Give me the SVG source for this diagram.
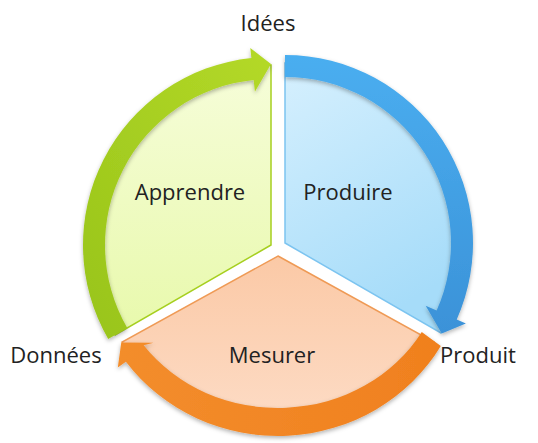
<svg xmlns="http://www.w3.org/2000/svg" width="538" height="443" viewBox="0 0 538 443">
<style>
  text { font-family: "Open Sans", "Liberation Sans", sans-serif; font-size: 22px; fill: #222222; text-anchor: middle; }
  .band { filter: url(#shadow); }
</style>
<defs>
  <filter id="shadow" x="-20%" y="-20%" width="140%" height="140%">
    <feDropShadow dx="0" dy="2" stdDeviation="2" flood-color="#000000" flood-opacity="0.3"/>
  </filter>
  <linearGradient id="gFill" x1="0" y1="0" x2="0" y2="1">
    <stop offset="0" stop-color="#f6fdd9"/>
    <stop offset="1" stop-color="#e8f9ac"/>
  </linearGradient>
  <linearGradient id="bFill" x1="0" y1="0" x2="0.4" y2="1">
    <stop offset="0" stop-color="#d6f0fe"/>
    <stop offset="1" stop-color="#a6dcf9"/>
  </linearGradient>
  <linearGradient id="oFill" x1="0" y1="0" x2="0" y2="1">
    <stop offset="0" stop-color="#fbc9a6"/>
    <stop offset="1" stop-color="#fddcc6"/>
  </linearGradient>
  <linearGradient id="gBand" x1="0" y1="1" x2="1" y2="0">
    <stop offset="0" stop-color="#98c41a"/>
    <stop offset="1" stop-color="#b4d928"/>
  </linearGradient>
  <linearGradient id="bBand" x1="0" y1="0" x2="0" y2="1">
    <stop offset="0" stop-color="#4aaef0"/>
    <stop offset="1" stop-color="#3b92d8"/>
  </linearGradient>
  <linearGradient id="oBand" x1="1" y1="0" x2="0" y2="0">
    <stop offset="0" stop-color="#f0801e"/>
    <stop offset="1" stop-color="#f38d2c"/>
  </linearGradient>
</defs>

<g id="node-apprendre">
  <path d="M271,245 L115.12,335 A180,180 0 0 1 271,65 Z" fill="url(#gFill)" stroke="#a6cf1f" stroke-width="1.5"/>
  <text x="190" y="200">Apprendre</text>
</g>
<g id="node-produire">
  <path d="M285,243 L285,63 A180,180 0 0 1 440.88,333 Z" fill="url(#bFill)" stroke="#7cc4f0" stroke-width="1.5"/>
  <text x="348" y="200">Produire</text>
</g>
<g id="node-mesurer">
  <path d="M278,256 L433.88,342.13 A180,172.3 0 0 1 122.12,342.13 Z" fill="url(#oFill)" stroke="#ef9a55" stroke-width="1.5"/>
  <text x="272" y="363">Mesurer</text>
</g>

<g id="connectors">
  <path class="band" d="M108.19,339 A188,188 0 0 1 251.35,58.03 L250.3,48.08 L271,64 L254.9,91.84 L253.65,79.91 A166,166 0 0 0 127.24,328 Z" fill="url(#gBand)"/>
  <path class="band" d="M285,55 A188,188 0 0 1 456.75,319.47 L465.88,323.53 L441.75,333.5 L425.69,305.64 L436.65,310.52 A166,166 0 0 0 285,77 Z" fill="url(#bBand)"/>
  <path class="band" d="M440.81,345.96 A188,180 0 0 1 125.91,361.75 L117.81,367.38 L121.25,342.61 L153.41,342.63 L143.7,345.3 A166,152 0 0 0 421.76,332 Z" fill="url(#oBand)"/>
</g>

<g id="label-idees"><text x="268" y="31">Idées</text></g>
<g id="label-produit"><text x="478" y="363">Produit</text></g>
<g id="label-donnees"><text x="56" y="363">Données</text></g>
</svg>
